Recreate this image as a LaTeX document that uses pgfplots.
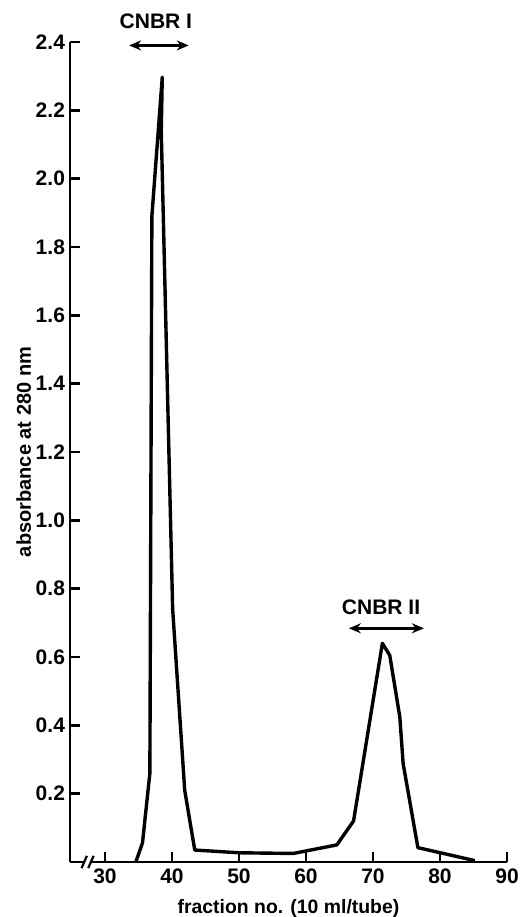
\documentclass[border=0pt]{standalone}
\usepackage{fontspec}
\setmainfont{Liberation Sans}
\usepackage{pgfplots}
\pgfplotsset{compat=1.18}
\usetikzlibrary{arrows.meta}

\begin{document}
\begin{tikzpicture}
\begin{axis}[
    width=218.5pt, height=410pt,
    scale only axis,
    xmin=24.78, xmax=90,
    ymin=0, ymax=2.4,
    axis lines=left,
    axis line style={-, line width=1.2pt},
    tick style={line width=1.2pt, black},
    tick align=inside,
    major tick length=5pt,
    xtick={30,40,50,60,70,80,90},
    ytick={0.2,0.4,0.6,0.8,1.0,1.2,1.4,1.6,1.8,2.0,2.2,2.4},
    yticklabel style={/pgf/number format/fixed, /pgf/number format/fixed zerofill,
        /pgf/number format/precision=1, xshift=1pt},
    /pgf/number format/assume math mode=true,
    ticklabel style={font=\fontsize{10.5}{12}\selectfont\bfseries},
    xlabel={fraction no. (10 ml/tube)},
    ylabel={absorbance at 280 nm},
    every axis x label/.style={at={(axis description cs:0.5,-0.057)}, anchor=center,
        font=\fontsize{9.7}{11}\selectfont\bfseries},
    every axis y label/.style={at={(axis description cs:-0.106,0.5)}, anchor=center,
        rotate=90, font=\fontsize{10}{11}\selectfont\bfseries},
    clip=false,
]
% elution profile
\addplot[black, line width=1.7pt, line join=round, mark=none] coordinates {
    (34.6,0.000) (35.6,0.056) (36.7,0.260) (37.0,1.890) (38.55,2.297)
    (38.4,2.140) (40.1,0.740) (41.9,0.210) (43.4,0.035) (50,0.027)
    (58.1,0.025) (64.6,0.050) (67.1,0.120) (71.4,0.640) (72.5,0.605)
    (74.0,0.425) (74.5,0.288) (76.7,0.042) (80.5,0.025) (85.2,0.004)
};

% peak markers
\draw[{Stealth[length=6pt,width=5pt]}-{Stealth[length=6pt,width=5pt]}, line width=1.2pt]
    (axis cs:33.6,2.39) -- (axis cs:42.5,2.39);
\node[font=\fontsize{10.5}{12}\selectfont\bfseries] at (axis cs:37.6,2.46) {CNBR I};
\draw[{Stealth[length=6pt,width=5pt]}-{Stealth[length=6pt,width=5pt]}, line width=1.2pt]
    (axis cs:66.4,0.684) -- (axis cs:77.6,0.684);
\node[font=\fontsize{10.5}{12}\selectfont\bfseries] at (axis cs:71.2,0.746) {CNBR II};

% axis break
\fill[white] (axis cs:26.9,-0.008) rectangle (axis cs:27.9,0.008);
\draw[line width=1.1pt] (axis cs:26.5,-0.018) -- (axis cs:27.3,0.018);
\draw[line width=1.1pt] (axis cs:27.5,-0.018) -- (axis cs:28.3,0.018);
\end{axis}
\pgfresetboundingbox
\path (-35pt,-27.5pt) rectangle (228.5pt,431pt);
\end{tikzpicture}
\end{document}
